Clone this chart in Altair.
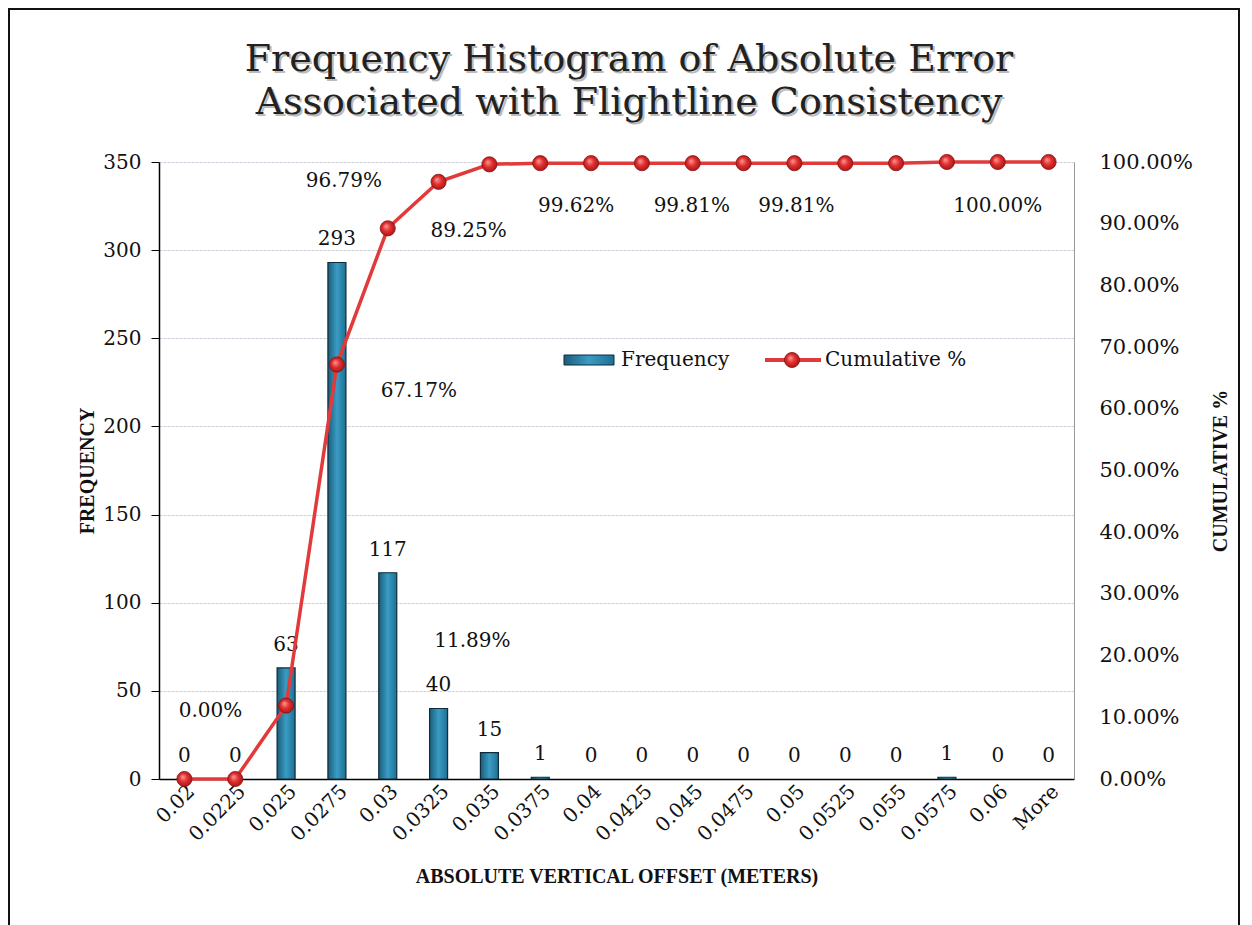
import altair as alt
import pandas as pd

# ---- data ----
categories = ["0.02", "0.0225", "0.025", "0.0275", "0.03", "0.0325", "0.035", "0.0375",
              "0.04", "0.0425", "0.045", "0.0475", "0.05", "0.0525", "0.055", "0.0575",
              "0.06", "More"]
frequency = [0, 0, 63, 293, 117, 40, 15, 1, 0, 0, 0, 0, 0, 0, 0, 1, 0, 0]
cumulative = [0.0, 0.0, 0.1189, 0.6717, 0.8925, 0.9679, 0.9962, 0.9981, 0.9981, 0.9981,
              0.9981, 0.9981, 0.9981, 0.9981, 0.9981, 1.0, 1.0, 1.0]

# cumulative % data labels as they sit in the reference (text, anchor category, height on % axis)
cum_label_text = ["0.00%", "11.89%", "67.17%", "89.25%", "96.79%", "99.62%", "99.81%", "99.81%", "100.00%"]
cum_label_cat = ["0.02", "0.035", "0.03", "0.0325", "0.0275", "0.04", "0.045", "0.05", "0.06"]
cum_label_pos = [0.110, 0.224, 0.629, 0.888, 0.969, 0.929, 0.929, 0.929, 0.929]
# horizontal nudges (style) for each label
cum_label_nudge = [26, -17, 31, 30, 7, -15, -1, 2, 0]

df = pd.DataFrame({"cat": categories, "freq": frequency, "cum": cumulative})
lab = pd.DataFrame({"text": cum_label_text, "cat": cum_label_cat, "pos": cum_label_pos})
dummy = pd.DataFrame({"a": [0]})

W, H = 915, 617
SERIF = "DejaVu Serif"
COND = "Liberation Serif"
FS = 20
TFS = 20

xscale = alt.Scale(domain=categories, paddingInner=0, paddingOuter=0)
yl = alt.Scale(domain=[0, 350])
yr = alt.Scale(domain=[0, 1])

x_axis = alt.Axis(title="ABSOLUTE VERTICAL OFFSET (METERS)", labelAngle=-45,
                  labelAlign="right", labelBaseline="top", labelPadding=2,
                  ticks=False, domainColor="#000", domainWidth=1.5,
                  labelFont=SERIF, labelFontSize=FS, labelColor="#111",
                  titleFont=COND, titleFontSize=TFS, titleFontWeight="bold",
                  titleColor="#111", titlePadding=22)
yl_axis = alt.Axis(title="FREQUENCY", values=list(range(0, 351, 50)), grid=True,
                   gridColor="#cfcfdb", gridWidth=1, gridDash=[3, 1],
                   domainColor="#000", domainWidth=1.5,
                   tickColor="#000", tickSize=8, labelPadding=10,
                   labelFont=SERIF, labelFontSize=FS, labelColor="#111",
                   titleFont=COND, titleFontSize=TFS, titleFontWeight="bold",
                   titleColor="#111", titlePadding=5)
yr_axis = alt.Axis(title="CUMULATIVE %", orient="right", format=".2%",
                   values=[i / 10 for i in range(11)], grid=False, ticks=False,
                   domainColor="#999", domainWidth=1, labelPadding=25,
                   labelFont=SERIF, labelFontSize=21, labelColor="#111",
                   titleFont=COND, titleFontSize=TFS, titleFontWeight="bold",
                   titleColor="#111", titleAngle=270, titlePadding=38)

X = alt.X("cat:N", sort=categories, scale=xscale, axis=x_axis)

bar_fill = alt.LinearGradient(
    gradient="linear", x1=0, y1=0, x2=1, y2=0,
    stops=[alt.GradientStop(color="#1b5d7a", offset=0),
           alt.GradientStop(color="#3a9cc4", offset=0.5),
           alt.GradientStop(color="#1f6f93", offset=1)])
ball_fill = alt.RadialGradient(
    gradient="radial", x1=0.38, y1=0.35, r1=0, x2=0.5, y2=0.5, r2=0.6,
    stops=[alt.GradientStop(color="#ff9a9a", offset=0),
           alt.GradientStop(color="#e03030", offset=0.45),
           alt.GradientStop(color="#9a1010", offset=1)])

base = alt.Chart(df)

bars = base.transform_filter("datum.freq > 0").mark_bar(
    size=18, fill=bar_fill, stroke="#0e2c3a", strokeWidth=1.2
).encode(x=X, y=alt.Y("freq:Q", scale=yl, axis=yl_axis))

bar_text = base.mark_text(font=SERIF, fontSize=FS, color="#111", baseline="bottom", dy=-13).encode(
    x=X, y=alt.Y("freq:Q", scale=yl, axis=yl_axis), text="freq:Q")

line = base.mark_line(color="#e23a3a", strokeWidth=3.5).encode(
    x=X, y=alt.Y("cum:Q", scale=yr, axis=yr_axis))

points = base.mark_point(filled=True, fill=ball_fill, stroke="#8a1212", strokeWidth=0.8,
                         size=230, opacity=1).encode(
    x=X, y=alt.Y("cum:Q", scale=yr, axis=yr_axis))

cum_texts = []
for i in range(len(cum_label_text)):
    cum_texts.append(
        alt.Chart(lab.iloc[[i]]).mark_text(font=SERIF, fontSize=FS, color="#111",
                                          baseline="middle", align="center",
                                          dx=cum_label_nudge[i]).encode(
            x=X, y=alt.Y("pos:Q", scale=yr, axis=yr_axis), text="text:N")
    )

d = alt.Chart(dummy)
# outer frame
frame = d.mark_rect(fill="white", fillOpacity=0, stroke="#111", strokeWidth=2).encode(
    x=alt.value(-150), x2=alt.value(1080), y=alt.value(-153), y2=alt.value(775))

# title (two lines with a faint shadow)
title_lines = ["Frequency Histogram of Absolute Error", "Associated with Flightline Consistency"]
title_y = [-102, -59]
title_layers = []
for t, yy in zip(title_lines, title_y):
    title_layers.append(d.mark_text(font=SERIF, fontSize=38, color="#bbbbbb", dx=2, dy=2,
                                    baseline="middle").encode(
        x=alt.value(470), y=alt.value(yy), text=alt.value(t)))
    title_layers.append(d.mark_text(font=SERIF, fontSize=38, color="#222222",
                                    baseline="middle").encode(
        x=alt.value(470), y=alt.value(yy), text=alt.value(t)))

# manual legend
leg_bar = d.mark_rect(fill=bar_fill, stroke="#0e2c3a", strokeWidth=1).encode(
    x=alt.value(405), x2=alt.value(455), y=alt.value(193), y2=alt.value(203))
leg_bar_txt = d.mark_text(font=SERIF, fontSize=FS, color="#111", align="left", baseline="middle").encode(
    x=alt.value(462), y=alt.value(198), text=alt.value("Frequency"))
leg_line = d.mark_rule(color="#e23a3a", strokeWidth=4).encode(
    x=alt.value(606), x2=alt.value(662), y=alt.value(198))
leg_pt = d.mark_point(filled=True, fill=ball_fill, stroke="#8a1212", strokeWidth=0.8,
                      size=230, opacity=1).encode(x=alt.value(633), y=alt.value(198))
leg_line_txt = d.mark_text(font=SERIF, fontSize=FS, color="#111", align="left", baseline="middle").encode(
    x=alt.value(666), y=alt.value(198), text=alt.value("Cumulative %"))

left_group = alt.layer(bars, bar_text)
right_group = alt.layer(line, points, *cum_texts)

chart = alt.layer(
    frame, left_group, right_group, *title_layers,
    leg_bar, leg_bar_txt, leg_line, leg_pt, leg_line_txt
).resolve_scale(y="independent").properties(
    width=W, height=H, padding=0, background="white"
).configure_view(stroke=None)

chart.save("out.html", embed_options={"renderer": "svg", "actions": False})
